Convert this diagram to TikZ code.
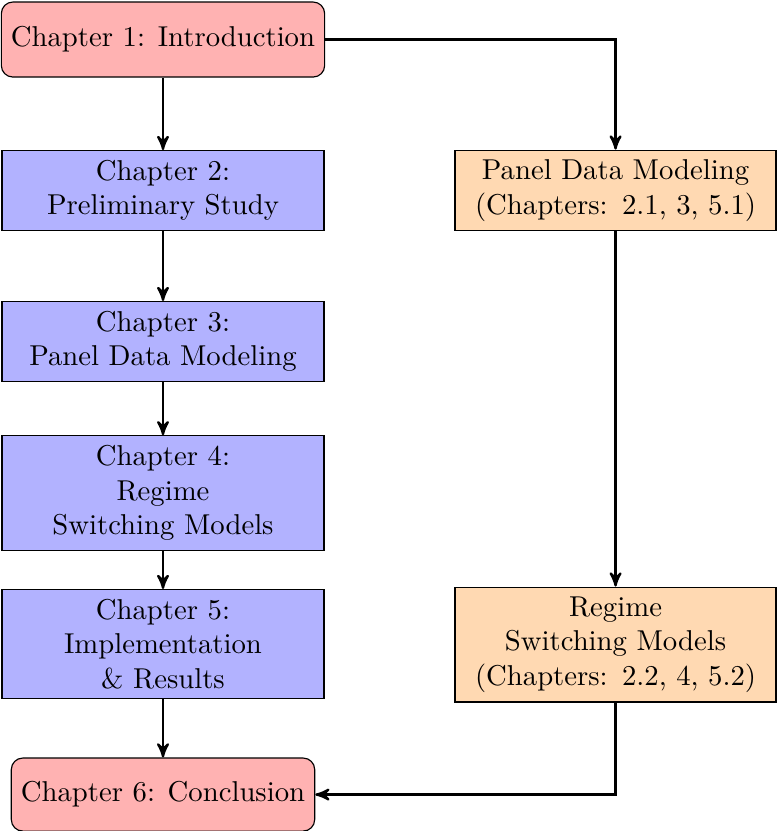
\documentclass[tikz,border=0pt]{standalone}
\usepackage{amsmath}
\usepackage{tikz}
\usetikzlibrary{arrows,shapes}
\usetikzlibrary{positioning}
\tikzset{
    >=stealth',
    chapterend/.style={rectangle, rounded corners, draw=black, fill=red!30,
        minimum height=0.918cm, align=center},
    chapterbox/.style={rectangle, draw=black, fill=blue!30,
        text width=3.5cm, minimum width=3.941cm, align=center},
    themebox/.style={rectangle, draw=black, fill=orange!30,
        text width=3.5cm, minimum width=3.929cm, align=center},
    flow/.style={thick, ->},
}

\begin{document}
\begin{tikzpicture}
% \draw[step=0.5cm, very thin, transparent] (0cm,0cm) grid (9cm,-10cm);
\useasboundingbox (0cm,0cm) rectangle (9.498cm,-10.171cm);
\node[chapterend] (intro) at (1.995cm,-0.484cm) {Chapter 1: Introduction};
\node[chapterbox] (prelim) at (1.995cm,-2.332cm) {Chapter 2:\\ Preliminary Study};
\node[chapterbox] (panelch) at (1.995cm,-4.180cm) {Chapter 3:\\ Panel Data Modeling};
\node[chapterbox] (regimech) at (1.995cm,-6.034cm) {Chapter 4:\\ Regime\\ Switching Models};
\node[chapterbox] (impl) at (1.995cm,-7.883cm) {Chapter 5:\\ Implementation\\ \& Results};
\node[chapterend, minimum height=0.894cm] (concl) at (1.995cm,-9.725cm) {Chapter 6: Conclusion};
\node[themebox] (paneltheme) at (7.534cm,-2.332cm) {Panel Data Modeling\\ (Chapters: 2.1, 3, 5.1)};
\node[themebox] (regimetheme) at (7.534cm,-7.889cm) {Regime\\ Switching Models\\ (Chapters: 2.2, 4, 5.2)};
\draw[flow] (intro) -- (prelim);
\draw[flow] (prelim) -- (panelch);
\draw[flow] (panelch) -- (regimech);
\draw[flow] (regimech) -- (impl);
\draw[flow] (impl) -- (concl);
\draw[flow] (intro.east) -| (paneltheme.north);
\draw[flow] (paneltheme) -- (regimetheme);
\draw[flow] (regimetheme.south) |- (concl.east);
\end{tikzpicture}
\end{document}
